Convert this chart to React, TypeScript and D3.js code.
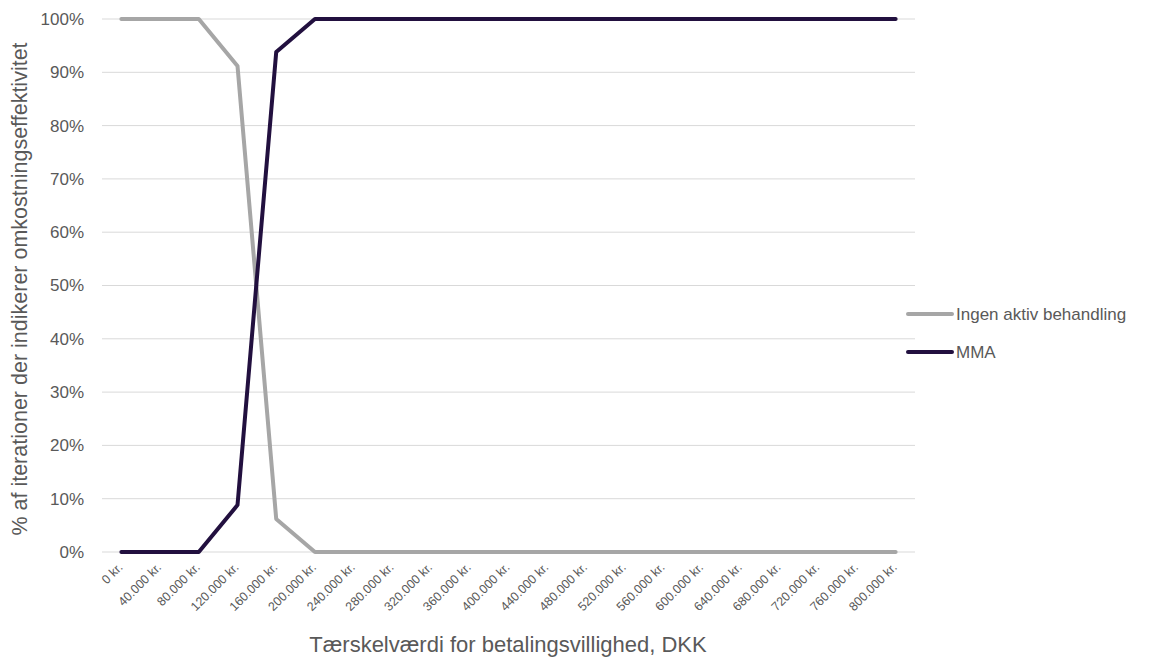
import React from "react";
import * as d3 from "d3";

const categories: number[] = [0, 40000, 80000, 120000, 160000, 200000, 240000, 280000, 320000, 360000, 400000, 440000, 480000, 520000, 560000, 600000, 640000, 680000, 720000, 760000, 800000];
const ingenValues: number[] = [1, 1, 1, 0.912, 0.062, 0, 0, 0, 0, 0, 0, 0, 0, 0, 0, 0, 0, 0, 0, 0, 0];
const mmaValues: number[] = [0, 0, 0, 0.088, 0.938, 1, 1, 1, 1, 1, 1, 1, 1, 1, 1, 1, 1, 1, 1, 1, 1];
const yTicks: number[] = [0, 0.1, 0.2, 0.3, 0.4, 0.5, 0.6, 0.7, 0.8, 0.9, 1];
const seriesNames: string[] = ["Ingen aktiv behandling", "MMA"];
const seriesColors: string[] = ["#a6a6a6", "#22103f"];

const W = 1159;
const H = 657;
const left = 102;
const right = 915;
const top = 19;
const bottom = 552;

const fmtKr = (v: number) => {
  const s = d3.format(",")(v).replace(/,/g, ".");
  return `${s} kr.`;
};

export default function App() {
  const x = d3.scalePoint<number>().domain(categories).range([left, right]).padding(0.5);
  const y = d3.scaleLinear().domain([0, 1]).range([bottom, top]);
  const line = d3
    .line<number>()
    .x((_, i) => x(categories[i]) as number)
    .y((d) => y(d));
  const series = [ingenValues, mmaValues];
  const font = "'Liberation Sans', Arial, sans-serif";
  const textColor = "#595959";

  return (
    <svg width={W} height={H} style={{ position: "absolute", left: 0, top: 0, background: "#fff" }} fontFamily={font}>
      {yTicks.map((t) => (
        <g key={t}>
          <line x1={left} x2={right} y1={y(t)} y2={y(t)} stroke="#d9d9d9" strokeWidth={1} />
          <text x={84} y={y(t)} dy="0.35em" textAnchor="end" fontSize={17} fill={textColor}>
            {`${Math.round(t * 100)}%`}
          </text>
        </g>
      ))}
      {categories.map((c) => (
        <text
          key={c}
          transform={`translate(${(x(c) as number) + 2},${bottom + 16}) rotate(-45)`}
          textAnchor="end"
          fontSize={12.5}
          fill={textColor}
        >
          {fmtKr(c)}
        </text>
      ))}
      {series.map((s, i) => (
        <path
          key={i}
          d={line(s) || ""}
          fill="none"
          stroke={seriesColors[i]}
          strokeWidth={4}
          strokeLinejoin="round"
          strokeLinecap="round"
        />
      ))}
      <text
        transform={`translate(27,289) rotate(-90)`}
        textAnchor="middle"
        fontSize={21.5}
        fill={textColor}
      >
        % af iterationer der indikerer omkostningseffektivitet
      </text>
      <text x={508} y={652} textAnchor="middle" fontSize={22} fill={textColor}>
        Tærskelværdi for betalingsvillighed, DKK
      </text>
      {seriesNames.map((n, i) => (
        <g key={n} transform={`translate(0,${314 + i * 38})`}>
          <line x1={908} x2={952} y1={0} y2={0} stroke={seriesColors[i]} strokeWidth={4} strokeLinecap="round" />
          <text x={956} y={0} dy="0.35em" fontSize={17} fill={textColor}>
            {n}
          </text>
        </g>
      ))}
    </svg>
  );
}
